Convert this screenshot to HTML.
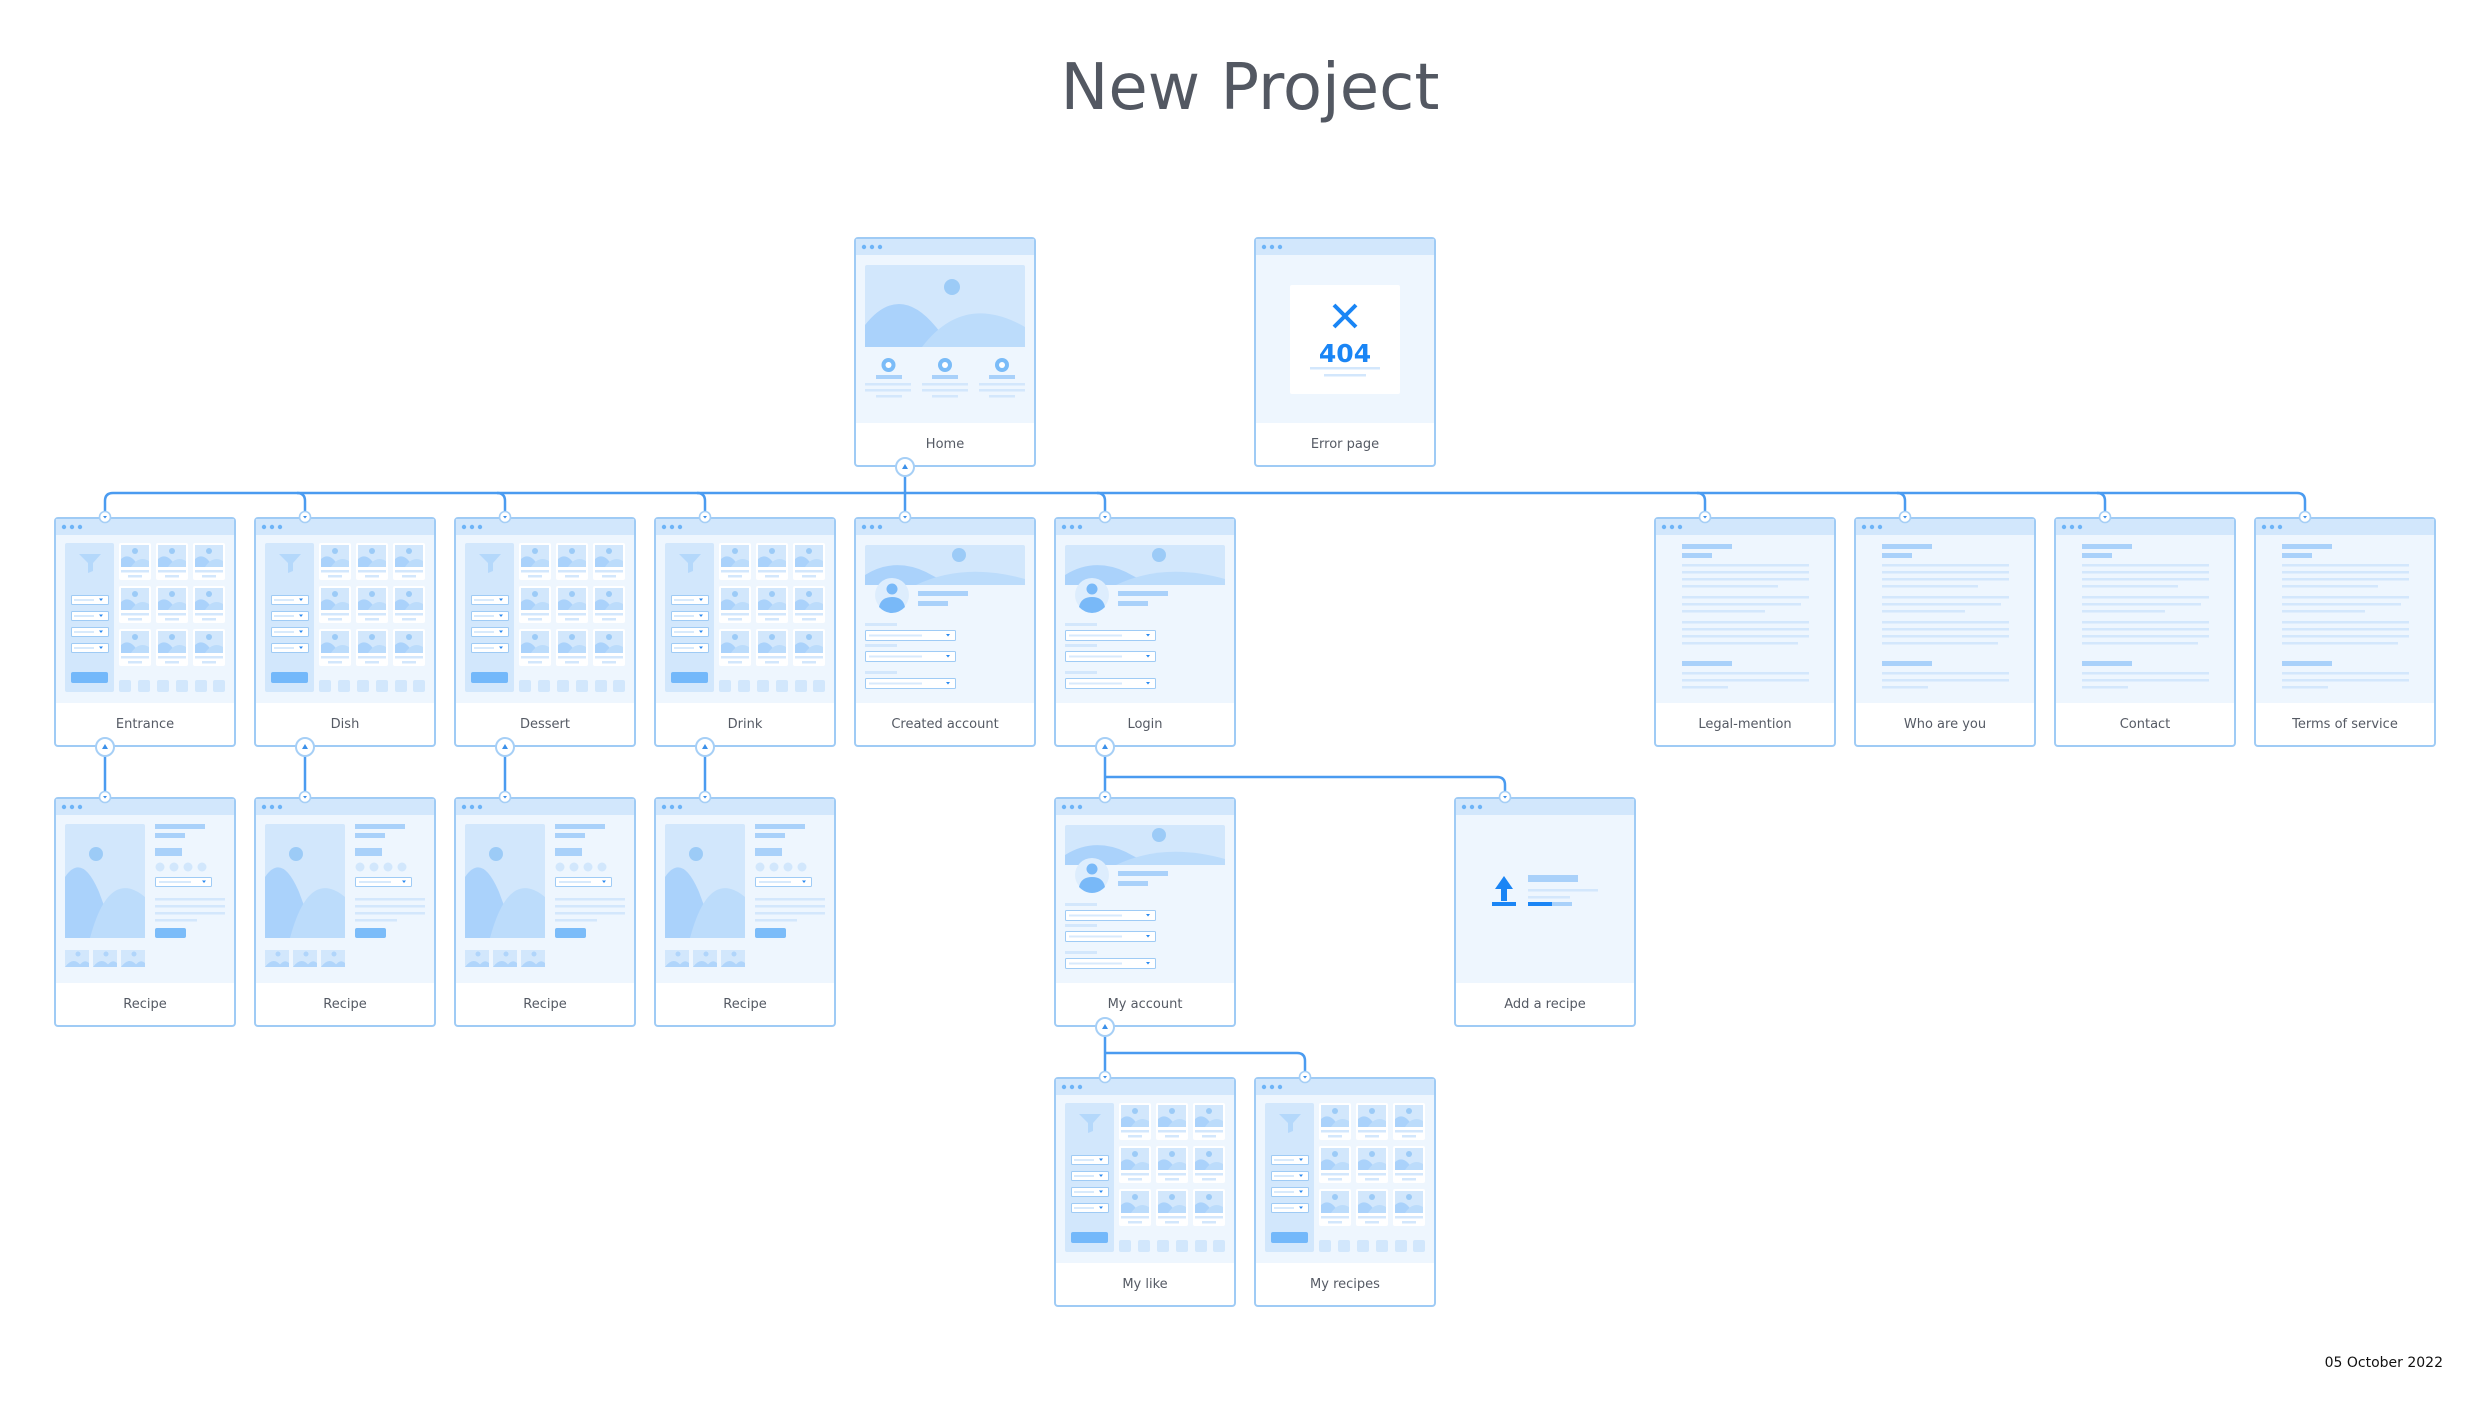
<!DOCTYPE html>
<html><head><meta charset="utf-8"><style>
html,body{margin:0;padding:0;background:#fff;}
svg{display:block;}
text{font-family:"DejaVu Sans","Liberation Sans",sans-serif;}
</style></head><body>
<svg width="2490" height="1426" viewBox="0 0 2490 1426" xmlns="http://www.w3.org/2000/svg">
<defs>
<symbol id="frame" width="182" height="230" viewBox="0 0 182 230">
  <rect x="1" y="1" width="180" height="228" rx="3" fill="#fff" stroke="#9fcbf5" stroke-width="2"/>
  <rect x="2" y="2" width="178" height="16" fill="#d2e7fc"/>
  <rect x="2" y="18" width="178" height="168" fill="#eef6fe"/>
  <circle cx="10" cy="10" r="2.2" fill="#6db4f7"/><circle cx="18" cy="10" r="2.2" fill="#6db4f7"/><circle cx="26" cy="10" r="2.2" fill="#6db4f7"/>
</symbol>
<symbol id="thumb" width="32" height="37" viewBox="0 0 32 37">
  <rect x="0" y="0" width="32" height="37" rx="2" fill="#fff"/>
  <rect x="2" y="2" width="28" height="22" fill="#d2e7fc"/>
  <path d="M2 24 L2 16 Q9 10 16 18 L20 24Z" fill="#aad2fb"/>
  <path d="M12 24 Q20 12 30 18 L30 24Z" fill="#bcdcfb"/>
  <circle cx="16" cy="8" r="3" fill="#9ccbf7"/>
  <rect x="2" y="27" width="28" height="2.5" fill="#d3e7fc"/>
  <rect x="9" y="32" width="14" height="2.5" fill="#d3e7fc"/>
</symbol>
<symbol id="dd" width="38" height="10" viewBox="0 0 38 10">
  <rect x="0.5" y="0.5" width="37" height="9" rx="1" fill="#fff" stroke="#9fcbf5" stroke-width="1"/>
  <rect x="3" y="4" width="20" height="2" fill="#d8eafc"/>
  <path d="M28 3.5 L32 3.5 L30 6Z" fill="#2b8af0"/>
</symbol>
<symbol id="grid" width="182" height="230" viewBox="0 0 182 230">
  <use href="#frame"/>
  <rect x="11" y="26" width="49" height="149" rx="2" fill="#d2e7fc"/>
  <path d="M25 37 L47 37 L39 46 L39 54 L34 56 L34 46Z" fill="#b4d8fb"/>
  <use href="#dd" x="17" y="78"/><use href="#dd" x="17" y="94"/><use href="#dd" x="17" y="110"/><use href="#dd" x="17" y="126"/>
  <rect x="17" y="155" width="37" height="11" rx="2" fill="#73b8fa"/>
  <use href="#thumb" x="65" y="26"/><use href="#thumb" x="102" y="26"/><use href="#thumb" x="139" y="26"/>
  <use href="#thumb" x="65" y="69"/><use href="#thumb" x="102" y="69"/><use href="#thumb" x="139" y="69"/>
  <use href="#thumb" x="65" y="112"/><use href="#thumb" x="102" y="112"/><use href="#thumb" x="139" y="112"/>
  <g fill="#d2e7fc"><rect x="65" y="163" width="12" height="12" rx="2"/><rect x="84" y="163" width="12" height="12" rx="2"/><rect x="103" y="163" width="12" height="12" rx="2"/><rect x="122" y="163" width="12" height="12" rx="2"/><rect x="141" y="163" width="12" height="12" rx="2"/><rect x="159" y="163" width="12" height="12" rx="2"/></g>
</symbol>
<symbol id="recipe" width="182" height="230" viewBox="0 0 182 230">
  <use href="#frame"/>
  <rect x="11" y="27" width="80" height="114" rx="2" fill="#d2e7fc"/>
  <path d="M11 141 L11 80 Q28 55 45 95 L62 141Z" fill="#aad2fb"/>
  <path d="M36 141 Q55 70 91 100 L91 141Z" fill="#bcdcfb"/>
  <circle cx="42" cy="57" r="7" fill="#9ccbf7"/>
  <rect x="101" y="27" width="50" height="5" fill="#a9d1fa"/>
  <rect x="101" y="36" width="30" height="5" fill="#a9d1fa"/>
  <rect x="101" y="51" width="27" height="8" fill="#a9d1fa"/>
  <g fill="#d2e7fc"><circle cx="106" cy="70" r="4.5"/><circle cx="120" cy="70" r="4.5"/><circle cx="134" cy="70" r="4.5"/><circle cx="148" cy="70" r="4.5"/></g>
  <rect x="101.5" y="80.5" width="56" height="9" rx="1" fill="#fff" stroke="#9fcbf5"/>
  <rect x="105" y="84" width="32" height="2" fill="#d8eafc"/><path d="M148 83.5 L152 83.5 L150 86Z" fill="#2b8af0"/>
  <g fill="#d3e7fc"><rect x="101" y="101" width="70" height="2.5"/><rect x="101" y="108" width="70" height="2.5"/><rect x="101" y="115" width="70" height="2.5"/><rect x="101" y="122" width="42" height="2.5"/></g>
  <rect x="101" y="131" width="31" height="10" rx="2" fill="#7bbcf9"/>
  <g><rect x="11" y="153" width="24" height="17" fill="#d2e7fc"/><rect x="39" y="153" width="24" height="17" fill="#d2e7fc"/><rect x="67" y="153" width="24" height="17" fill="#d2e7fc"/>
  <g fill="#b0d5fb"><circle cx="24" cy="157" r="2.5"/><circle cx="52" cy="157" r="2.5"/><circle cx="80" cy="157" r="2.5"/>
  <path d="M11 170 Q20 158 28 170Z M24 170 Q30 161 35 166 L35 170Z M39 170 Q48 158 56 170Z M52 170 Q58 161 63 166 L63 170Z M67 170 Q76 158 84 170Z M80 170 Q86 161 91 166 L91 170Z"/></g></g>
</symbol>
<symbol id="profile" width="182" height="230" viewBox="0 0 182 230">
  <use href="#frame"/>
  <rect x="11" y="28" width="160" height="40" rx="2" fill="#d2e7fc"/>
  <path d="M11 68 L11 58 Q40 40 72 55 Q85 62 96 68Z" fill="#aad2fb"/>
  <path d="M62 68 Q110 45 171 62 L171 68Z" fill="#bcdcfb"/>
  <circle cx="105" cy="38" r="7" fill="#9ccbf7"/>
  <circle cx="38" cy="78" r="17" fill="#ddedfd"/>
  <circle cx="38" cy="72" r="5.5" fill="#79b9f8"/>
  <path d="M25 90 Q27 80 38 80 Q49 80 51 90 Q45 96 38 96 Q31 96 25 90Z" fill="#79b9f8"/>
  <rect x="64" y="74" width="50" height="5" fill="#a9d1fa"/>
  <rect x="64" y="84" width="30" height="5" fill="#a9d1fa"/>
  <g fill="#d3e7fc"><rect x="11" y="106" width="32" height="3"/><rect x="11" y="127" width="32" height="3"/><rect x="11" y="154" width="32" height="3"/></g>
  <g>
  <rect x="11.5" y="113.5" width="90" height="10" rx="1" fill="#fff" stroke="#9fcbf5"/><rect x="15" y="117.5" width="53" height="2" fill="#d8eafc"/><path d="M92 117 L96 117 L94 119.5Z" fill="#2b8af0"/>
  <rect x="11.5" y="134.5" width="90" height="10" rx="1" fill="#fff" stroke="#9fcbf5"/><rect x="15" y="138.5" width="53" height="2" fill="#d8eafc"/><path d="M92 138 L96 138 L94 140.5Z" fill="#2b8af0"/>
  <rect x="11.5" y="161.5" width="90" height="10" rx="1" fill="#fff" stroke="#9fcbf5"/><rect x="15" y="165.5" width="53" height="2" fill="#d8eafc"/><path d="M92 165 L96 165 L94 167.5Z" fill="#2b8af0"/>
  </g>
</symbol>
<symbol id="textp" width="182" height="230" viewBox="0 0 182 230">
  <use href="#frame"/>
  <g fill="#a9d1fa"><rect x="28" y="27" width="50" height="5"/><rect x="28" y="36" width="30" height="5"/><rect x="28" y="144" width="50" height="5"/></g>
  <g fill="#d3e7fc"><rect x="28" y="47" width="127" height="2.5"/><rect x="28" y="54" width="127" height="2.5"/><rect x="28" y="61" width="127" height="2.5"/><rect x="28" y="68" width="96" height="2.5"/>
  <rect x="28" y="79" width="127" height="2.5"/><rect x="28" y="86" width="119" height="2.5"/><rect x="28" y="93" width="83" height="2.5"/>
  <rect x="28" y="104" width="127" height="2.5"/><rect x="28" y="111" width="127" height="2.5"/><rect x="28" y="118" width="127" height="2.5"/><rect x="28" y="125" width="116" height="2.5"/>
  <rect x="28" y="155" width="127" height="2.5"/><rect x="28" y="162" width="127" height="2.5"/><rect x="28" y="169" width="46" height="2.5"/></g>
</symbol>
<symbol id="home" width="182" height="230" viewBox="0 0 182 230">
  <use href="#frame"/>
  <rect x="11" y="28" width="160" height="82" rx="2" fill="#d2e7fc"/>
  <path d="M11 110 L11 88 Q45 45 82 90 L98 110Z" fill="#aad2fb"/>
  <path d="M68 110 Q110 55 171 90 L171 110Z" fill="#bcdcfb"/>
  <circle cx="98" cy="50" r="8" fill="#9ccbf7"/>
  <g fill="#7bbcf8"><circle cx="34.5" cy="128" r="7"/><circle cx="91" cy="128" r="7"/><circle cx="148" cy="128" r="7"/></g>
  <g fill="#fff"><circle cx="34.5" cy="128" r="3"/><circle cx="91" cy="128" r="3"/><circle cx="148" cy="128" r="3"/></g>
  <g fill="#a9d1fa"><rect x="22" y="138" width="26" height="4"/><rect x="78" y="138" width="26" height="4"/><rect x="135" y="138" width="26" height="4"/></g>
  <g fill="#d3e7fc"><rect x="11" y="146" width="46" height="2.5"/><rect x="68" y="146" width="46" height="2.5"/><rect x="125" y="146" width="46" height="2.5"/>
  <rect x="11" y="152" width="46" height="2.5"/><rect x="68" y="152" width="46" height="2.5"/><rect x="125" y="152" width="46" height="2.5"/>
  <rect x="22" y="158" width="26" height="2.5"/><rect x="78" y="158" width="26" height="2.5"/><rect x="135" y="158" width="26" height="2.5"/></g>
</symbol>
<symbol id="err" width="182" height="230" viewBox="0 0 182 230">
  <use href="#frame"/>
  <rect x="36" y="48" width="110" height="109" rx="2" fill="#fff"/>
  <path d="M80 68 L102 90 M102 68 L80 90" stroke="#1a85f5" stroke-width="4"/>
  <text x="91" y="125" text-anchor="middle" font-size="25" font-weight="bold" fill="#1a85f5">404</text>
  <rect x="56" y="130" width="70" height="2.5" fill="#d3e7fc"/>
  <rect x="70" y="137" width="42" height="2.5" fill="#d3e7fc"/>
</symbol>
<symbol id="add" width="182" height="230" viewBox="0 0 182 230">
  <use href="#frame"/>
  <path d="M50 79 L59 92 L53 92 L53 104 L47 104 L47 92 L41 92Z" fill="#1a85f5"/>
  <rect x="38" y="105" width="24" height="4" fill="#1a85f5"/>
  <rect x="74" y="78" width="50" height="7" fill="#a9d1fa"/>
  <rect x="74" y="92" width="70" height="2.5" fill="#d3e7fc"/>
  <rect x="74" y="99" width="42" height="2.5" fill="#d3e7fc"/>
  <rect x="74" y="105" width="44" height="4" fill="#a9d1fa"/>
  <rect x="74" y="105" width="24" height="4" fill="#1a85f5"/>
</symbol>
<symbol id="cb" width="22" height="22" viewBox="0 0 22 22">
  <circle cx="11" cy="11" r="9" fill="#fff" stroke="#a6cff6" stroke-width="2"/>
  <path d="M11 8 L14 13 L8 13Z" fill="#3a8fe9"/>
</symbol>
<symbol id="ct" width="14" height="14" viewBox="0 0 14 14">
  <circle cx="7" cy="7" r="5.5" fill="#fff" stroke="#a6cff6" stroke-width="1.6"/>
  <path d="M5 6 L9 6 L7 8.5Z" fill="#3a8fe9"/>
</symbol>
</defs>

<text x="1250" y="109" text-anchor="middle" font-size="64" fill="#535862">New Project</text>
<text x="2443" y="1367" text-anchor="end" font-size="14" fill="#111">05 October 2022</text>

<g fill="none" stroke="#4a9bf0" stroke-width="2.5">
  <path d="M905 476 L905 512"/>
  <path d="M105 512 L105 501 Q105 493 113 493 L2297 493 Q2305 493 2305 501 L2305 512"/>
  <path d="M297 493 Q305 493 305 501 L305 512 M497 493 Q505 493 505 501 L505 512 M697 493 Q705 493 705 501 L705 512 M1097 493 Q1105 493 1105 501 L1105 512 M1697 493 Q1705 493 1705 501 L1705 512 M1897 493 Q1905 493 1905 501 L1905 512 M2097 493 Q2105 493 2105 501 L2105 512"/>
  <path d="M105 756 L105 792 M305 756 L305 792 M505 756 L505 792 M705 756 L705 792"/>
  <path d="M1105 756 L1105 792 M1105 777 L1497 777 Q1505 777 1505 785 L1505 792"/>
  <path d="M1105 1037 L1105 1072 M1105 1053 L1297 1053 Q1305 1053 1305 1061 L1305 1072"/>
</g>

<g font-size="13" fill="#555a64" text-anchor="middle">
<use href="#home" x="854" y="237"/><text x="945" y="448">Home</text>
<use href="#err" x="1254" y="237"/><text x="1345" y="448">Error page</text>

<use href="#grid" x="54" y="517"/><text x="145" y="728">Entrance</text>
<use href="#grid" x="254" y="517"/><text x="345" y="728">Dish</text>
<use href="#grid" x="454" y="517"/><text x="545" y="728">Dessert</text>
<use href="#grid" x="654" y="517"/><text x="745" y="728">Drink</text>
<use href="#profile" x="854" y="517"/><text x="945" y="728">Created account</text>
<use href="#profile" x="1054" y="517"/><text x="1145" y="728">Login</text>
<use href="#textp" x="1654" y="517"/><text x="1745" y="728">Legal-mention</text>
<use href="#textp" x="1854" y="517"/><text x="1945" y="728">Who are you</text>
<use href="#textp" x="2054" y="517"/><text x="2145" y="728">Contact</text>
<use href="#textp" x="2254" y="517"/><text x="2345" y="728">Terms of service</text>

<use href="#recipe" x="54" y="797"/><text x="145" y="1008">Recipe</text>
<use href="#recipe" x="254" y="797"/><text x="345" y="1008">Recipe</text>
<use href="#recipe" x="454" y="797"/><text x="545" y="1008">Recipe</text>
<use href="#recipe" x="654" y="797"/><text x="745" y="1008">Recipe</text>
<use href="#profile" x="1054" y="797"/><text x="1145" y="1008">My account</text>
<use href="#add" x="1454" y="797"/><text x="1545" y="1008">Add a recipe</text>

<use href="#grid" x="1054" y="1077"/><text x="1145" y="1288">My like</text>
<use href="#grid" x="1254" y="1077"/><text x="1345" y="1288">My recipes</text>
</g>

<use href="#cb" x="894" y="456"/>
<use href="#cb" x="94" y="736"/><use href="#cb" x="294" y="736"/><use href="#cb" x="494" y="736"/><use href="#cb" x="694" y="736"/><use href="#cb" x="1094" y="736"/>
<use href="#cb" x="1094" y="1016"/>
<use href="#ct" x="98" y="510"/><use href="#ct" x="298" y="510"/><use href="#ct" x="498" y="510"/><use href="#ct" x="698" y="510"/><use href="#ct" x="898" y="510"/><use href="#ct" x="1098" y="510"/>
<use href="#ct" x="1698" y="510"/><use href="#ct" x="1898" y="510"/><use href="#ct" x="2098" y="510"/><use href="#ct" x="2298" y="510"/>
<use href="#ct" x="98" y="790"/><use href="#ct" x="298" y="790"/><use href="#ct" x="498" y="790"/><use href="#ct" x="698" y="790"/><use href="#ct" x="1098" y="790"/><use href="#ct" x="1498" y="790"/>
<use href="#ct" x="1098" y="1070"/><use href="#ct" x="1298" y="1070"/>
</svg>
</body></html>
